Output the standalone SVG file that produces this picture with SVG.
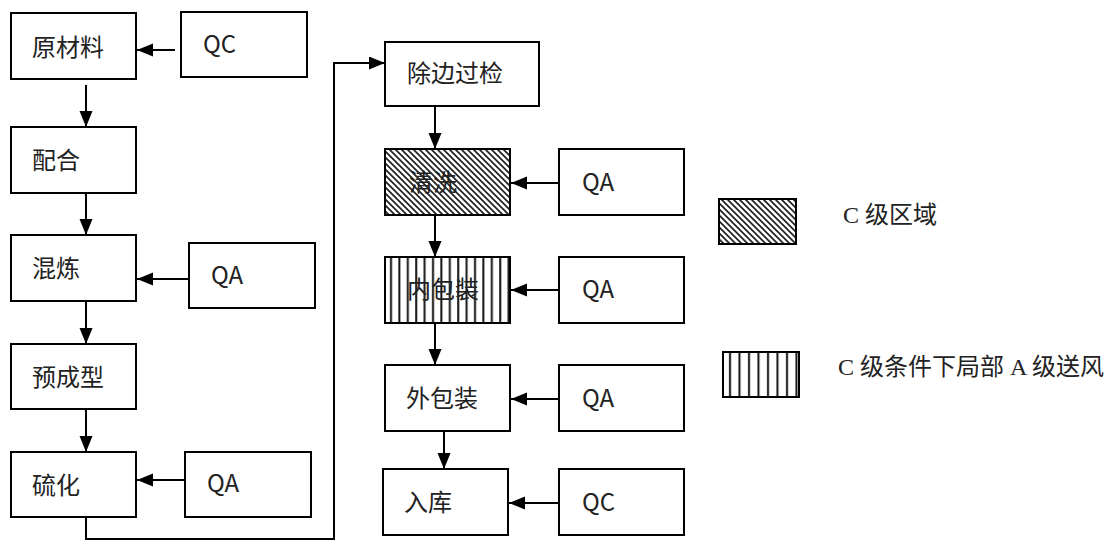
<svg xmlns="http://www.w3.org/2000/svg" width="1117" height="541" viewBox="0 0 1117 541">
<defs>
<style>
.box{fill:#fff;stroke:#000;stroke-width:2}
.lbl{font-family:"Noto Sans CJK SC","Noto Sans",sans-serif;font-size:24px;fill:#222}
.leg{font-family:"Liberation Serif","Noto Sans CJK SC",serif;font-size:24px;fill:#222}
.con{fill:none;stroke:#000;stroke-width:2}
</style>
<marker id="ah" markerUnits="userSpaceOnUse" markerWidth="17" markerHeight="14" refX="16" refY="6.5" orient="auto">
<path d="M0,0 L16,6.5 L0,13 z" fill="#000"/>
</marker>
<pattern id="diag" patternUnits="userSpaceOnUse" width="6" height="6">
<rect width="6" height="6" fill="#fff"/>
<path d="M-1,-1 L7,7 M-1,5 L1,7 M5,-1 L7,1" stroke="#222" stroke-width="1.7"/>
</pattern>
<pattern id="vert" patternUnits="userSpaceOnUse" width="8.4" height="10" x="387">
<rect width="8.4" height="10" fill="#fff"/>
<path d="M4,0 V10" stroke="#111" stroke-width="2"/>
</pattern>
<pattern id="vert2" patternUnits="userSpaceOnUse" width="9.5" height="10" x="726">
<rect width="9.5" height="10" fill="#fff"/>
<path d="M4,0 V10" stroke="#111" stroke-width="2"/>
</pattern>
</defs>
<rect width="1117" height="541" fill="#fff"/>

<g id="connectors">
<path class="con" d="M175,50 H137" marker-end="url(#ah)"/>
<path class="con" d="M86,85 V127" marker-end="url(#ah)"/>
<path class="con" d="M86,193 V235" marker-end="url(#ah)"/>
<path class="con" d="M189,279 H137" marker-end="url(#ah)"/>
<path class="con" d="M86,301 V344" marker-end="url(#ah)"/>
<path class="con" d="M86,409 V452" marker-end="url(#ah)"/>
<path class="con" d="M185,480 H137" marker-end="url(#ah)"/>
<path class="con" d="M86,517 V539 H334 V63 H385" marker-end="url(#ah)"/>
<path class="con" d="M435,106 V149" marker-end="url(#ah)"/>
<path class="con" d="M559,183 H511" marker-end="url(#ah)"/>
<path class="con" d="M435,215 V257" marker-end="url(#ah)"/>
<path class="con" d="M559,290 H511" marker-end="url(#ah)"/>
<path class="con" d="M435,323 V365" marker-end="url(#ah)"/>
<path class="con" d="M559,399 H511" marker-end="url(#ah)"/>
<path class="con" d="M444,431 V469" marker-end="url(#ah)"/>
<path class="con" d="M559,503 H509" marker-end="url(#ah)"/>
</g>

<g id="n-raw"><rect class="box" x="11" y="13" width="125" height="66"/><text class="lbl" x="32" y="56">原材料</text></g>
<g id="n-qc1"><rect class="box" x="181" y="12" width="126" height="65"/><text class="lbl" x="203" y="53">QC</text></g>
<g id="n-mix"><rect class="box" x="11" y="127" width="125" height="66"/><text class="lbl" x="32" y="169">配合</text></g>
<g id="n-mill"><rect class="box" x="11" y="235" width="125" height="66"/><text class="lbl" x="32" y="277">混炼</text></g>
<g id="n-qa1"><rect class="box" x="189" y="243" width="126" height="65"/><text class="lbl" x="211" y="284">QA</text></g>
<g id="n-pre"><rect class="box" x="11" y="344" width="125" height="65"/><text class="lbl" x="32" y="386">预成型</text></g>
<g id="n-cure"><rect class="box" x="11" y="452" width="125" height="65"/><text class="lbl" x="32" y="494">硫化</text></g>
<g id="n-qa2"><rect class="box" x="185" y="452" width="126" height="65"/><text class="lbl" x="207" y="492">QA</text></g>

<g id="n-trim"><rect class="box" x="385" y="42" width="154" height="64"/><text class="lbl" x="407" y="82">除边过检</text></g>
<g id="n-wash"><rect class="box" x="385" y="149" width="125" height="66" style="fill:url(#diag)"/><text class="lbl" x="409" y="191">清洗</text></g>
<g id="n-qa3"><rect class="box" x="559" y="149" width="125" height="66"/><text class="lbl" x="582" y="191">QA</text></g>
<g id="n-inner"><rect class="box" x="385" y="257" width="125" height="66" style="fill:url(#vert)"/><text class="lbl" x="407" y="298">内包装</text></g>
<g id="n-qa4"><rect class="box" x="559" y="257" width="125" height="66"/><text class="lbl" x="582" y="298">QA</text></g>
<g id="n-outer"><rect class="box" x="385" y="365" width="125" height="66"/><text class="lbl" x="406" y="407">外包装</text></g>
<g id="n-qa5"><rect class="box" x="559" y="365" width="125" height="66"/><text class="lbl" x="582" y="407">QA</text></g>
<g id="n-store"><rect class="box" x="383" y="469" width="125" height="66"/><text class="lbl" x="404" y="511">入库</text></g>
<g id="n-qc2"><rect class="box" x="559" y="469" width="125" height="66"/><text class="lbl" x="582" y="511">QC</text></g>

<g id="legend-c"><rect class="box" x="719" y="199" width="77" height="45" style="fill:url(#diag)"/><text class="leg" x="843" y="223">C 级区域</text></g>
<g id="legend-a"><rect class="box" x="723" y="352" width="76" height="45" style="fill:url(#vert2)"/><text class="leg" x="838" y="375">C 级条件下局部 A 级送风</text></g>
</svg>
